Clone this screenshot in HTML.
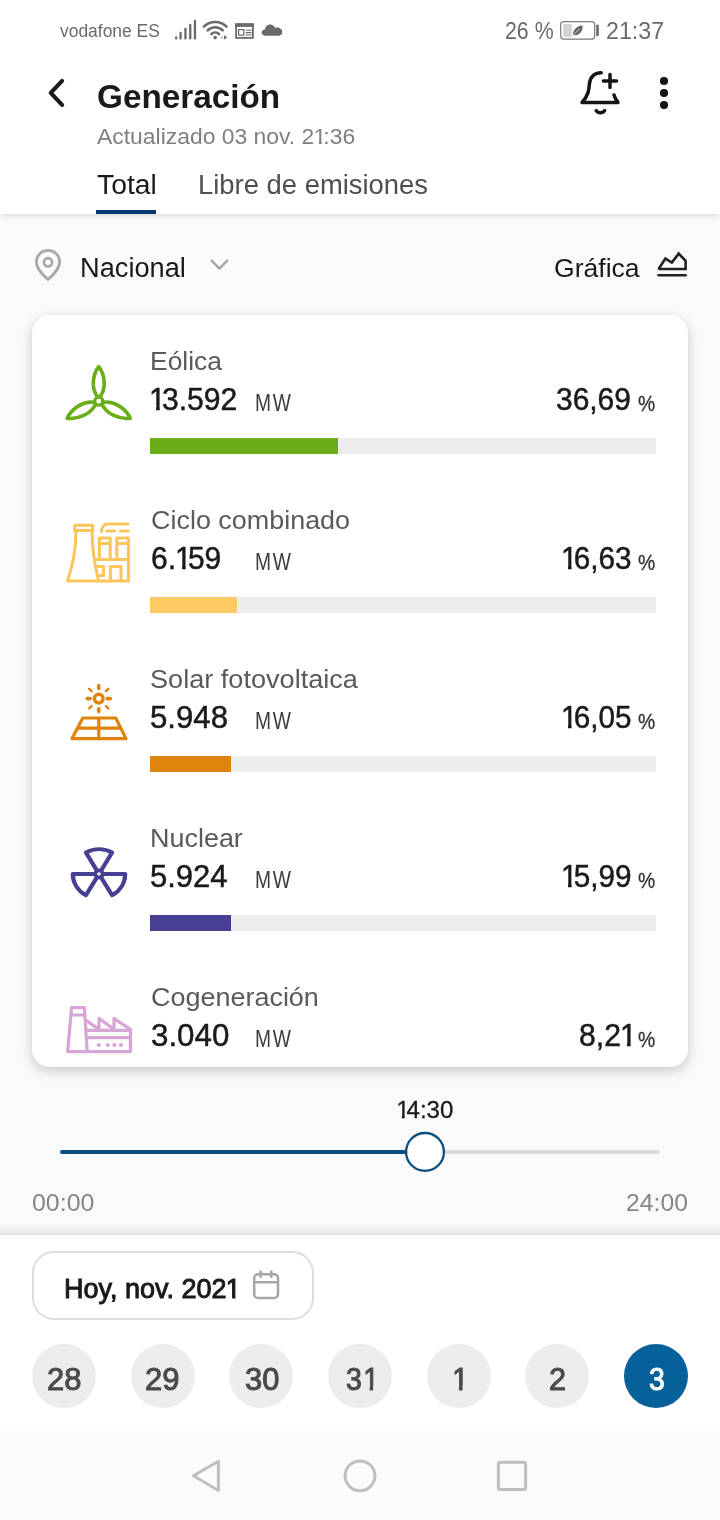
<!DOCTYPE html>
<html lang="es">
<head>
<meta charset="utf-8">
<title>Generación</title>
<style>
html,body{margin:0;padding:0;}
body{width:720px;height:1520px;position:relative;overflow:hidden;background:#fafafa;font-family:"Liberation Sans",sans-serif;}
.abs{position:absolute;}
.t{position:absolute;white-space:nowrap;line-height:1;transform-origin:0 0;font-family:"Liberation Sans",sans-serif;}
.t i{font-style:normal;display:inline-block;margin:0 -0.13em 0 -0.03em;clip-path:polygon(0 0,0.56em 0,0.56em calc(0.76em - 1.7px),0.353em calc(0.76em - 1.7px),0.353em 1em,0.232em 1em,0.232em calc(0.76em - 1.7px),0 calc(0.76em - 1.7px));}
svg{position:absolute;left:0;top:0;overflow:visible;}
#header{position:absolute;left:0;top:0;width:720px;height:214px;background:#ffffff;box-shadow:0 1px 6px rgba(0,0,0,0.16);}
#tabline{position:absolute;left:96px;top:210px;width:60px;height:4px;background:#043a70;}
#card{position:absolute;left:32px;top:315px;width:656px;height:752px;background:#ffffff;border-radius:18px;box-shadow:0 4px 13px rgba(0,0,0,0.2);}
.track{position:absolute;left:150px;width:506px;height:16px;background:#ededed;}
.fill{position:absolute;left:150px;height:16px;}
#botshadow{position:absolute;left:0;top:1224px;width:720px;height:11px;background:linear-gradient(to bottom,rgba(0,0,0,0),rgba(0,0,0,0.09));}
#bottom{position:absolute;left:0;top:1235px;width:720px;height:196px;background:#ffffff;}
#nav{position:absolute;left:0;top:1431px;width:720px;height:89px;background:#fbfbfb;}
#datebtn{position:absolute;left:32px;top:1251px;width:278px;height:65px;border:2px solid #dcdcdc;border-radius:22px;background:#fff;}
.day{position:absolute;top:1344px;width:64px;height:64px;border-radius:50%;background:#ededed;}
.day.sel{background:#06619b;}
#txt{position:absolute;left:0;top:0;width:720px;height:1520px;will-change:transform;}
</style>
</head>
<body>
<div id="header"></div>
<div id="tabline"></div>
<div id="card"></div>

<!-- progress bars -->
<div class="track" style="top:438px"></div><div class="fill" style="top:438px;width:188px;background:#6aae17"></div>
<div class="track" style="top:597px"></div><div class="fill" style="top:597px;width:87px;background:#fdc962"></div>
<div class="track" style="top:756px"></div><div class="fill" style="top:756px;width:81px;background:#e0830a"></div>
<div class="track" style="top:915px"></div><div class="fill" style="top:915px;width:81px;background:#463f93"></div>

<div id="botshadow"></div>
<div id="bottom"></div>
<div id="nav"></div>
<div id="datebtn"></div>
<div class="day" style="left:32px"></div>
<div class="day" style="left:130.67px"></div>
<div class="day" style="left:229.33px"></div>
<div class="day" style="left:328px"></div>
<div class="day" style="left:426.67px"></div>
<div class="day" style="left:525.33px"></div>
<div class="day sel" style="left:624px"></div>

<svg width="720" height="1520" viewBox="0 0 720 1520" fill="none">
<!-- status: signal -->
<g fill="#6a6a6a">
<rect x="175" y="36.2" width="2.3" height="3.3" rx="1"/>
<rect x="179.4" y="31.7" width="2.3" height="7.8" rx="1"/>
<rect x="184.3" y="27.8" width="2.3" height="11.7" rx="1"/>
<rect x="189.1" y="23.7" width="2.3" height="15.8" rx="1"/>
<rect x="193.8" y="19.8" width="2.3" height="19.7" rx="1"/>
</g>
<!-- status: wifi -->
<g stroke="#6a6a6a" stroke-width="2.5" stroke-linecap="round">
<path d="M203.9 26.6 A16 16 0 0 1 226.5 26.6"/>
<path d="M207.6 30.3 A10.7 10.7 0 0 1 222.8 30.3"/>
<path d="M211.4 34 A5.4 5.4 0 0 1 219 34"/>
</g>
<circle cx="215.2" cy="37.6" r="1.8" fill="#6a6a6a"/>
<path d="M224 35.3 L224 39.6 L227.4 37.45 Z" fill="#6a6a6a"/>
<path d="M223 35.3 L223 39.6 L219.8 37.45 Z" fill="#cfcfcf"/>
<!-- status: calendar/news -->
<g>
<rect x="236.1" y="24.3" width="16.8" height="13.6" stroke="#6a6a6a" stroke-width="1.8"/>
<rect x="235.2" y="23.3" width="18.6" height="3.6" fill="#6a6a6a"/>
<rect x="238.6" y="29.6" width="5.2" height="5.6" stroke="#6a6a6a" stroke-width="1.2"/>
<path d="M245.6 30.2 H251.6 M245.6 32.6 H251.6 M245.6 35 H251.6" stroke="#6a6a6a" stroke-width="1.1"/>
</g>
<!-- status: cloud -->
<path d="M265.6 35.8 C263.2 35.8 261.7 34.4 261.7 32.6 C261.7 30.8 263 29.6 264.9 29.5 C265.2 26.6 267.3 24.4 270.2 24.4 C272.6 24.4 274.4 25.8 275.2 27.9 C275.7 27.7 276.3 27.6 276.9 27.6 C279.9 27.6 282.3 29.4 282.3 31.9 C282.3 34.2 280.6 35.8 278.3 35.8 Z" fill="#6a6a6a"/>
<!-- status: battery -->
<rect x="560.7" y="21.7" width="34" height="17.4" rx="3" stroke="#7a7a7a" stroke-width="1.2" fill="#fff"/>
<rect x="563.2" y="24.1" width="8.6" height="12.7" fill="#d2d2d2"/>
<path d="M573 35.2 C572.6 30.2 576 25.9 582.6 25.4 C583 31.6 579.2 35.6 573.6 35.3 Z" fill="#666"/>
<path d="M573 35.4 L579.5 28.8" stroke="#fff" stroke-width="0.7"/>
<rect x="596.2" y="24.5" width="2.6" height="11.7" rx="1.3" fill="#6a6a6a"/>

<!-- header: back chevron -->
<path d="M62.1 80.9 L50.7 92.9 L62.1 104.9" stroke="#1a1a1a" stroke-width="4.1" stroke-linecap="round" stroke-linejoin="round"/>
<!-- header: bell + -->
<g stroke="#151515" stroke-width="3.5" stroke-linecap="round" stroke-linejoin="round">
<path d="M601.2 72.8 C594 72.8 590 77.6 589.4 84 C589 90 588.4 95.6 582 102.4 L618 102.4 C616 100 614.8 97.6 614 95"/>
<path d="M603.4 81 H616.6 M610 74.4 V87.6"/>
<path d="M596.2 110.6 C598 113.4 602.8 113.4 604.6 110.6"/>
</g>
<!-- header: kebab -->
<g fill="#151515"><circle cx="664" cy="81" r="4.1"/><circle cx="664" cy="93" r="4.1"/><circle cx="664" cy="105.1" r="4.1"/></g>

<!-- filter: pin -->
<g stroke="#a8a8a8" stroke-width="2.7">
<path d="M48 279.6 C42.6 274.6 36.3 268.6 36.3 262 C36.3 255.4 41.5 250.4 48 250.4 C54.5 250.4 59.7 255.4 59.7 262 C59.7 268.6 53.4 274.6 48 279.6 Z" stroke-linejoin="round"/>
<circle cx="48" cy="262.3" r="4.1"/>
</g>
<!-- filter: chevron down -->
<path d="M211.6 260.6 L219.4 268.6 L227.2 260.6" stroke="#a8a8a8" stroke-width="2.4" stroke-linecap="round" stroke-linejoin="round"/>
<!-- grafica icon -->
<g stroke="#222" stroke-width="2.6" stroke-linejoin="miter" stroke-miterlimit="2" stroke-linecap="round">
<path d="M658.6 269 L665.4 258.6 L671.8 262.6 L678.7 253.6 L685.6 260.8 L685.6 269 Z"/>
<path d="M658.6 275.3 H685.6"/>
</g>

<!-- row icon 1: wind -->
<g stroke="#6aae17" stroke-width="3.6" stroke-linejoin="round" transform="translate(98.75 401.2)">
<path d="M0 -3 C-8.6 -12 -5.9 -27 0 -34.6 C5.9 -27 8.6 -12 0 -3 Z"/>
<path d="M0 -3 C-8.6 -12 -5.9 -27 0 -34.6 C5.9 -27 8.6 -12 0 -3 Z" transform="rotate(118.3) scale(1 1.035)"/>
<path d="M0 -3 C-8.6 -12 -5.9 -27 0 -34.6 C5.9 -27 8.6 -12 0 -3 Z" transform="rotate(-118.3) scale(1 1.035)"/>
<circle cx="0" cy="0" r="4" fill="#fff" stroke-width="3.2"/>
</g>

<!-- row icon 2: combined cycle -->
<g stroke="#fcc55c" stroke-width="3" stroke-linejoin="round" stroke-linecap="round">
<rect x="74.6" y="525.2" width="18" height="5.2"/>
<path d="M76 530.4 C76 552 72 566 67.6 581 L98.6 581 C95 566 92 552 92 530.4"/>
<path d="M101.6 531.4 C101.6 526.6 104.4 524 108.4 524 L128 524"/>
<path d="M106.6 531 H114.6 M120.6 531 H128.4"/>
<path d="M99.4 559 V538 H110.2 V559 M99.4 543.6 H110.2"/>
<path d="M116.8 559 V538 H128.4 V581 M116.8 543.6 H128.4"/>
<path d="M95.4 559.4 H128.4"/>
<path d="M98.6 581 H128.4"/>
<path d="M110.4 581 V566.6 H121 V581"/>
<path d="M97.6 566.6 H103.6 V575.6 H99.6"/>
</g>

<!-- row icon 3: solar -->
<g stroke="#e0830a" stroke-linecap="round" stroke-linejoin="round">
<circle cx="98.75" cy="698.6" r="4.3" stroke-width="3.5"/>
<path d="M98.75 685.6 V688.4 M98.75 708.8 V711.6 M87.2 698.6 H90.2 M107.3 698.6 H110.3" stroke-width="3.6"/>
<path d="M89.2 688.8 L91.6 691.2 M108.3 688.8 L105.9 691.2 M89.2 708.4 L91.6 706 M108.3 708.4 L105.9 706" stroke-width="2.4"/>
<path d="M82.8 718 H115.8 L126 738.6 H72 Z M98.75 718 V738.6 M77.4 728.2 H120.6" stroke-width="3.2"/>
</g>

<!-- row icon 4: nuclear -->
<g stroke="#463f93" stroke-width="4" stroke-linejoin="round" transform="translate(99 873.9) scale(1.06 1)">
<path d="M0 0 L-12.35 -21.39 A24.7 24.7 0 0 1 12.35 -21.39 Z"/>
<path d="M0 0 L-12.35 -21.39 A24.7 24.7 0 0 1 12.35 -21.39 Z" transform="rotate(120)"/>
<path d="M0 0 L-12.35 -21.39 A24.7 24.7 0 0 1 12.35 -21.39 Z" transform="rotate(-120)"/>
<circle cx="0" cy="0" r="3.5" fill="#fff" stroke-width="3.6"/>
</g>

<!-- row icon 5: factory -->
<g stroke="#d7a6d6" stroke-width="3.2" stroke-linejoin="round" stroke-linecap="round">
<path d="M71.6 1007.6 H84.4 L87.2 1051.6 H67.6 Z M72 1015 H85"/>
<path d="M87.2 1051.6 H130.4 V1029.4 L114 1018.4 V1029.4 L99 1018.4 V1029.4 L86 1020.4"/>
<path d="M87 1030.4 H130.4 M87 1037.6 H130.4"/>
</g>
<g fill="#d7a6d6"><circle cx="98.75" cy="1045" r="2.1"/><circle cx="107.7" cy="1045" r="2.1"/><circle cx="114.4" cy="1045" r="2.1"/><circle cx="120.9" cy="1045" r="2.1"/></g>

<!-- slider -->
<rect x="60" y="1150" width="600" height="4" rx="2" fill="#dadada"/>
<rect x="60" y="1150" width="366" height="4" rx="2" fill="#0b4f7e"/>
<circle cx="425" cy="1151.9" r="18.9" fill="#fff" stroke="#0b4f7e" stroke-width="2.3"/>

<!-- date button calendar icon -->
<g stroke="#a6a6a6" stroke-width="2.5" stroke-linecap="round">
<rect x="254.2" y="1274.2" width="23.8" height="23.9" rx="3.8"/>
<path d="M254.2 1282.2 H278 M260.6 1271.6 V1276.8 M271.3 1271.6 V1276.8"/>
</g>

<!-- nav bar -->
<g stroke="#bfbfbf" stroke-width="3" stroke-linejoin="round">
<path d="M218.4 1461.2 L193.4 1475.8 L218.4 1490.5 Z"/>
<circle cx="360" cy="1475.8" r="14.9"/>
<rect x="498.4" y="1462.2" width="27.2" height="27.2" rx="2"/>
</g>
</svg>


<div id="txt">
<span class="t" style="left:60.40px;top:23.0px;font-size:17.5px;color:#6a6a6a;transform:scaleX(0.9958);">vodafone ES</span>
<span class="t" style="left:504.97px;top:19.6px;font-size:23.5px;color:#6a6a6a;transform:scaleX(0.9079);">26 %</span>
<span class="t" style="left:605.57px;top:19.6px;font-size:23.5px;color:#6a6a6a;transform:scaleX(0.9870);">21:37</span>
<span class="t" style="left:96.97px;top:79.2px;font-size:34px;color:#1a1a1a;font-weight:700;transform:scaleX(0.9784);">Generación</span>
<span class="t" style="left:96.80px;top:126.2px;font-size:21.2px;color:#7f7f7f;transform:scaleX(1.0807);">Actualizado 03 nov. 2<i>1</i>:36</span>
<span class="t" style="left:96.80px;top:172.3px;font-size:27px;color:#1a1a1a;transform:scaleX(1.0489);">Total</span>
<span class="t" style="left:197.77px;top:172.3px;font-size:27px;color:#4f4f4f;transform:scaleX(1.0151);">Libre de emisiones</span>
<span class="t" style="left:80.14px;top:254.8px;font-size:27px;color:#1a1a1a;transform:scaleX(1.0079);">Nacional</span>
<span class="t" style="left:553.60px;top:254.8px;font-size:26px;color:#1a1a1a;transform:scaleX(1.0214);">Gráfica</span>
<span class="t" style="left:150.35px;top:348.9px;font-size:25.5px;color:#5a5a5a;transform:scaleX(1.0372);">Eólica</span>
<span class="t" style="left:150.46px;top:384.3px;font-size:31.5px;color:#1a1a1a;-webkit-text-stroke:0.5px #1a1a1a;transform:scaleX(0.9556);"><i>1</i>3.592</span>
<span class="t" style="left:255.12px;top:392.1px;font-size:23px;color:#3c3c3c;letter-spacing:2px;transform:scaleX(0.8370);">MW</span>
<span class="t" style="left:556.09px;top:384.3px;font-size:31.5px;color:#1a1a1a;-webkit-text-stroke:0.5px #1a1a1a;transform:scaleX(0.9504);">36,69</span>
<span class="t" style="left:638.00px;top:392.2px;font-size:20.5px;color:#333333;-webkit-text-stroke:0.3px #333333;transform:scale(0.9432,1.1);">%</span>
<span class="t" style="left:150.79px;top:507.9px;font-size:25.5px;color:#5a5a5a;transform:scaleX(1.0560);">Ciclo combinado</span>
<span class="t" style="left:150.76px;top:543.3px;font-size:31.5px;color:#1a1a1a;-webkit-text-stroke:0.5px #1a1a1a;transform:scaleX(0.9515);">6.<i>1</i>59</span>
<span class="t" style="left:255.12px;top:551.1px;font-size:23px;color:#3c3c3c;letter-spacing:2px;transform:scaleX(0.8370);">MW</span>
<span class="t" style="left:562.36px;top:543.3px;font-size:31.5px;color:#1a1a1a;-webkit-text-stroke:0.5px #1a1a1a;transform:scaleX(0.9427);"><i>1</i>6,63</span>
<span class="t" style="left:638.00px;top:551.2px;font-size:20.5px;color:#333333;-webkit-text-stroke:0.3px #333333;transform:scale(0.9432,1.1);">%</span>
<span class="t" style="left:150.20px;top:666.9px;font-size:25.5px;color:#5a5a5a;transform:scaleX(1.0630);">Solar fotovoltaica</span>
<span class="t" style="left:150.19px;top:702.3px;font-size:31.5px;color:#1a1a1a;-webkit-text-stroke:0.5px #1a1a1a;transform:scaleX(0.9901);">5.948</span>
<span class="t" style="left:255.12px;top:710.1px;font-size:23px;color:#3c3c3c;letter-spacing:2px;transform:scaleX(0.8370);">MW</span>
<span class="t" style="left:562.37px;top:702.3px;font-size:31.5px;color:#1a1a1a;-webkit-text-stroke:0.5px #1a1a1a;transform:scaleX(0.9418);"><i>1</i>6,05</span>
<span class="t" style="left:638.00px;top:710.2px;font-size:20.5px;color:#333333;-webkit-text-stroke:0.3px #333333;transform:scale(0.9432,1.1);">%</span>
<span class="t" style="left:149.95px;top:825.9px;font-size:25.5px;color:#5a5a5a;transform:scaleX(1.0565);">Nuclear</span>
<span class="t" style="left:150.20px;top:861.3px;font-size:31.5px;color:#1a1a1a;-webkit-text-stroke:0.5px #1a1a1a;transform:scaleX(0.9846);">5.924</span>
<span class="t" style="left:255.12px;top:869.1px;font-size:23px;color:#3c3c3c;letter-spacing:2px;transform:scaleX(0.8370);">MW</span>
<span class="t" style="left:562.36px;top:861.3px;font-size:31.5px;color:#1a1a1a;-webkit-text-stroke:0.5px #1a1a1a;transform:scaleX(0.9434);"><i>1</i>5,99</span>
<span class="t" style="left:638.00px;top:869.2px;font-size:20.5px;color:#333333;-webkit-text-stroke:0.3px #333333;transform:scale(0.9432,1.1);">%</span>
<span class="t" style="left:150.78px;top:984.9px;font-size:25.5px;color:#5a5a5a;transform:scaleX(1.0572);">Cogeneración</span>
<span class="t" style="left:150.83px;top:1020.3px;font-size:31.5px;color:#1a1a1a;-webkit-text-stroke:0.5px #1a1a1a;transform:scaleX(0.9932);">3.040</span>
<span class="t" style="left:255.12px;top:1028.1px;font-size:23px;color:#3c3c3c;letter-spacing:2px;transform:scaleX(0.8370);">MW</span>
<span class="t" style="left:578.88px;top:1020.3px;font-size:31.5px;color:#1a1a1a;-webkit-text-stroke:0.5px #1a1a1a;transform:scaleX(0.9568);">8,2<i>1</i></span>
<span class="t" style="left:638.00px;top:1028.2px;font-size:20.5px;color:#333333;-webkit-text-stroke:0.3px #333333;transform:scale(0.9432,1.1);">%</span>
<span class="t" style="left:397.15px;top:1098.9px;font-size:23.5px;color:#1a1a1a;-webkit-text-stroke:0.3px #1a1a1a;transform:scaleX(1.0241);"><i>1</i>4:30</span>
<span class="t" style="left:32.20px;top:1192.1px;font-size:23px;color:#858585;transform:scaleX(1.0833);">00:00</span>
<span class="t" style="left:625.97px;top:1192.1px;font-size:23px;color:#858585;transform:scaleX(1.0760);">24:00</span>
<span class="t" style="left:64.17px;top:1275.1px;font-size:28px;color:#1a1a1a;-webkit-text-stroke:1px #1a1a1a;transform:scaleX(0.9645);">Hoy, nov. 202<i>1</i></span>
<span class="t" style="left:46.74px;top:1363.5px;font-size:31.5px;color:#4a4a4a;-webkit-text-stroke:1px #4a4a4a;transform:scaleX(0.9836);">28</span>
<span class="t" style="left:145.41px;top:1363.5px;font-size:31.5px;color:#4a4a4a;-webkit-text-stroke:1px #4a4a4a;transform:scaleX(0.9845);">29</span>
<span class="t" style="left:244.82px;top:1363.5px;font-size:31.5px;color:#4a4a4a;-webkit-text-stroke:1px #4a4a4a;transform:scaleX(0.9807);">30</span>
<span class="t" style="left:345.59px;top:1363.5px;font-size:31.5px;color:#4a4a4a;-webkit-text-stroke:1px #4a4a4a;transform:scaleX(0.9047);">3</span>
<span class="t" style="left:363.68px;top:1363.5px;font-size:31.5px;color:#4a4a4a;-webkit-text-stroke:1px #4a4a4a;transform:scaleX(0.8952);"><i>1</i></span>
<span class="t" style="left:453.43px;top:1363.5px;font-size:31.5px;color:#4a4a4a;-webkit-text-stroke:1px #4a4a4a;transform:scaleX(0.9286);"><i>1</i></span>
<span class="t" style="left:549.26px;top:1363.5px;font-size:31.5px;color:#4a4a4a;-webkit-text-stroke:1px #4a4a4a;transform:scaleX(0.9751);">2</span>
<span class="t" style="left:648.59px;top:1363.5px;font-size:31.5px;color:#ffffff;-webkit-text-stroke:1px #ffffff;transform:scaleX(0.9022);">3</span>
</div>
</body>
</html>
